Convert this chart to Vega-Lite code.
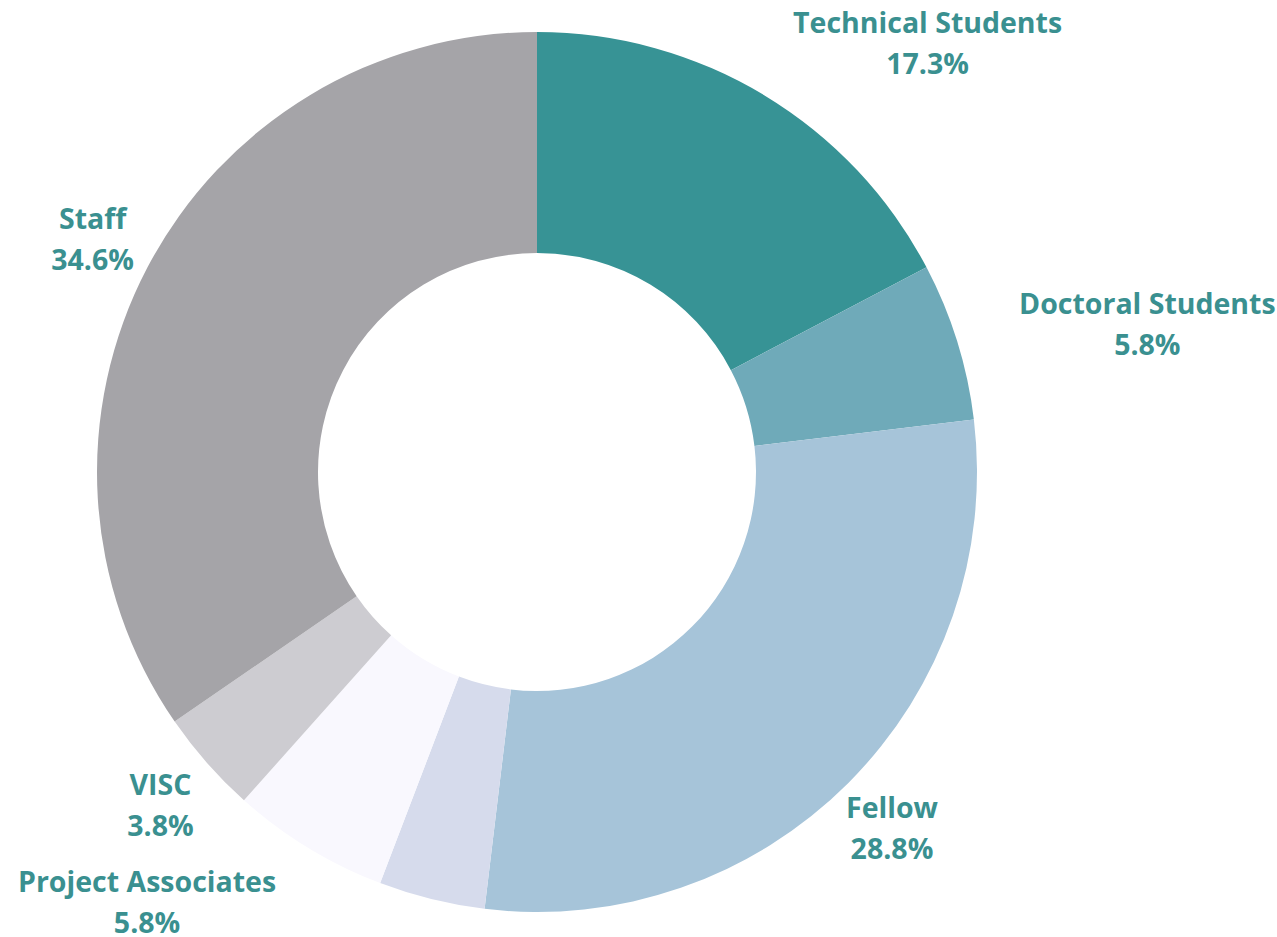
{
  "$schema": "https://vega.github.io/schema/vega-lite/v6.json",
  "width": 1074,
  "height": 944,
  "padding": {"left": 0, "top": 0, "right": 203, "bottom": 0},
  "autosize": {"type": "none"},
  "background": "white",
  "view": {"stroke": null},
  "data": {
    "values": [
      {"idx": 1, "group": "Technical Students", "pct": 17.3, "label": "Technical Students\n17.3%"},
      {"idx": 2, "group": "Doctoral Students", "pct": 5.8, "label": "Doctoral Students\n5.8%"},
      {"idx": 3, "group": "Fellow", "pct": 28.8, "label": "Fellow\n28.8%"},
      {"idx": 4, "group": "Other", "pct": 3.9, "label": ""},
      {"idx": 5, "group": "Project Associates", "pct": 5.8, "label": "Project Associates\n5.8%"},
      {"idx": 6, "group": "VISC", "pct": 3.8, "label": "VISC\n3.8%"},
      {"idx": 7, "group": "Staff", "pct": 34.6, "label": "Staff\n34.6%"}
    ]
  },
  "encoding": {
    "theta": {"field": "pct", "type": "quantitative", "stack": true},
    "order": {"field": "idx", "type": "quantitative"}
  },
  "layer": [
    {
      "mark": {"type": "arc", "outerRadius": 440, "innerRadius": 219},
      "encoding": {
        "color": {
          "field": "group",
          "type": "nominal",
          "legend": null,
          "scale": {
            "domain": ["Technical Students", "Doctoral Students", "Fellow", "Other", "Project Associates", "VISC", "Staff"],
            "range": ["#379395", "#6FAAB9", "#A6C4D9", "#D6DBEC", "#F9F8FE", "#CDCCD1", "#A5A4A8"]
          }
        }
      }
    },
    {
      "mark": {"type": "text", "radius": 502, "dy": -18, "font": "Open Sans", "fontWeight": "bold", "fontSize": 28.5, "lineHeight": 41, "lineBreak": "\n", "color": "#3A9090", "align": "center", "baseline": "middle"},
      "encoding": {"text": {"condition": {"test": "indexof(['Fellow','VISC','Staff'], datum.group) >= 0", "field": "label"}, "value": ""}}
    },
    {
      "mark": {"type": "text", "radius": 502, "dx": 131, "dy": -18, "font": "Open Sans", "fontWeight": "bold", "fontSize": 28.5, "lineHeight": 41, "lineBreak": "\n", "color": "#3A9090", "align": "center", "baseline": "middle"},
      "encoding": {"text": {"condition": {"test": "indexof(['Technical Students','Doctoral Students'], datum.group) >= 0", "field": "label"}, "value": ""}}
    },
    {
      "mark": {"type": "text", "radius": 502, "dx": -129, "dy": -18, "font": "Open Sans", "fontWeight": "bold", "fontSize": 28.5, "lineHeight": 41, "lineBreak": "\n", "color": "#3A9090", "align": "center", "baseline": "middle"},
      "encoding": {"text": {"condition": {"test": "datum.group === 'Project Associates'", "field": "label"}, "value": ""}}
    }
  ]
}
